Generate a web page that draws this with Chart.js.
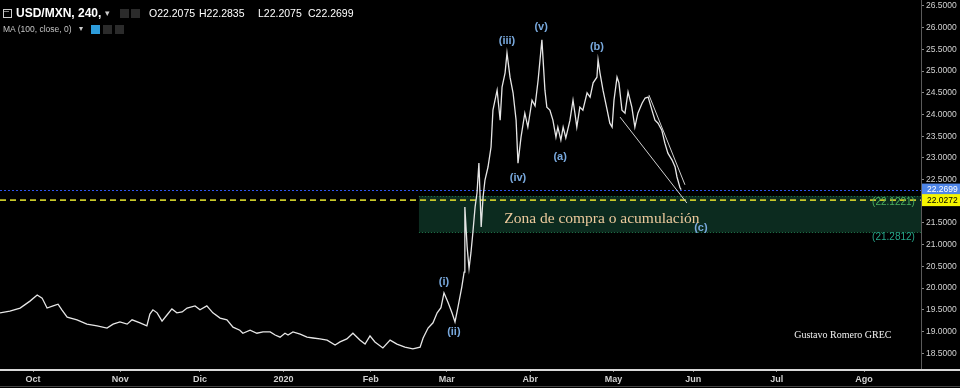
<!DOCTYPE html>
<html>
<head>
<meta charset="utf-8">
<script src="https://cdn.jsdelivr.net/npm/chart.js@4.4.1/dist/chart.umd.min.js"></script>
<style>
html, body { margin: 0; padding: 0; background: #000; }
#wrap { position: relative; width: 960px; height: 388px; overflow: hidden; }
#chart { position: absolute; left: 0; top: 0; }
.t { position: absolute; white-space: nowrap; font-family: "Liberation Sans", Arial, sans-serif; color: #fff; }
.ico { position: absolute; width: 9px; height: 9px; background: #2b2b2b; }
</style>
</head>
<body>
<div id="wrap">
  <canvas id="chart" width="960" height="388"></canvas>

  <!-- legend / header -->
  <div class="ico" style="left:3px;top:9px;background:none;border:1px solid #ccc;width:7px;height:7px;"></div>
  <div class="t" style="left:4px;top:7px;font-size:9px;color:#ccc;line-height:9px;">&#8211;</div>
  <div class="t" style="left:16px;top:6px;font-size:12px;font-weight:bold;">USD/MXN, 240,</div>
  <div class="t" style="left:105px;top:8px;font-size:9px;color:#ccc;">&#9662;</div>
  <div class="ico" style="left:120px;top:9px;"></div>
  <div class="ico" style="left:131px;top:9px;"></div>
  <div class="t" style="left:149px;top:7px;font-size:10.5px;">O22.2075</div>
  <div class="t" style="left:199px;top:7px;font-size:10.5px;">H22.2835</div>
  <div class="t" style="left:258px;top:7px;font-size:10.5px;">L22.2075</div>
  <div class="t" style="left:308px;top:7px;font-size:10.5px;">C22.2699</div>

  <div class="t" style="left:3px;top:24px;font-size:8.5px;color:#c4c4c4;">MA (100, close, 0)</div>
  <div class="t" style="left:79px;top:24px;font-size:8px;color:#ccc;">&#9662;</div>
  <div class="ico" style="left:91px;top:25px;background:#2d9cdb;"></div>
  <div class="ico" style="left:103px;top:25px;"></div>
  <div class="ico" style="left:115px;top:25px;"></div>
</div>

<script>
// axis ticks (x in trading days from 1 Oct 2019)
const monthTicks = [0, 23, 44, 66, 89, 109, 131, 153, 174, 196, 219];
const monthLabels = ['Oct', 'Nov', 'Dic', '2020', 'Feb', 'Mar', 'Abr', 'May', 'Jun', 'Jul', 'Ago'];
const priceTicks = [18.5, 19, 19.5, 20, 20.5, 21, 21.5, 22, 22.5, 23, 23.5, 24, 24.5, 25, 25.5, 26, 26.5];

// USD/MXN 4h price path
const days = [
    -8.7, -6.1, -3.4, -0.8, 1.1, 2.4, 3.7, 5.3, 6.6, 7.6,
    9.0, 11.6, 14.2, 16.9, 19.5, 21.1, 22.9, 24.8, 26.1, 28.2,
    30.0, 30.8, 31.6, 32.7, 34.0, 35.3, 36.6, 37.9, 39.3, 40.6,
    42.7, 44.0, 45.8, 47.4, 49.3, 51.1, 52.7, 54.5, 55.3, 57.2,
    59.0, 60.6, 62.5, 63.8, 65.1, 66.4, 67.2, 68.5, 70.4, 72.2,
    73.8, 75.6, 77.5, 79.6, 80.9, 82.7, 84.3, 86.2, 87.5, 88.8,
    90.1, 92.2, 94.1, 95.9, 98.0, 100.1, 102.0, 102.8, 104.1, 105.4,
    106.5, 107.5, 108.3, 109.4, 110.4, 111.2, 112.0, 113.0,
    113.6, 113.8, 114.4, 114.9, 115.4, 115.9, 116.5, 117.0, 117.5, 118.1,
    118.6, 119.1, 119.9, 120.7, 121.2, 122.3, 123.1, 123.6, 124.4, 124.9,
    125.7, 126.5, 127.3, 127.8, 128.6, 129.6, 130.4, 131.5, 132.3, 133.1,
    134.1, 134.9, 135.4, 136.2, 137.0, 137.8, 138.3, 139.1, 139.7, 140.4,
    141.5, 142.3, 142.8, 143.3, 144.1, 144.9, 146.0, 146.8, 147.6, 148.6,
    148.9, 149.4, 150.2, 151.3, 152.0, 152.6, 153.1, 153.9, 154.4, 155.2,
    156.0, 156.8, 157.8, 158.6, 159.4, 160.5, 161.3, 162.1, 163.1, 163.9,
    164.7, 165.7, 166.5, 167.3, 168.4, 169.2, 169.7, 170.5, 170.8
];
const closes = [
    19.43, 19.47, 19.54, 19.70, 19.84, 19.77, 19.54, 19.59, 19.63, 19.50,
    19.33, 19.27, 19.17, 19.13, 19.08, 19.17, 19.22, 19.17, 19.27, 19.20,
    19.13, 19.40, 19.50, 19.43, 19.24, 19.38, 19.52, 19.43, 19.45, 19.54,
    19.59, 19.50, 19.59, 19.43, 19.31, 19.27, 19.10, 19.03, 18.96, 19.03,
    18.96, 18.99, 18.99, 18.92, 18.87, 18.96, 18.92, 18.99, 18.94, 18.87,
    18.85, 18.83, 18.80, 18.69, 18.76, 18.83, 18.96, 18.80, 18.71, 18.90,
    18.76, 18.62, 18.80, 18.71, 18.64, 18.60, 18.64, 18.85, 19.08, 19.20,
    19.43, 19.55, 19.89, 19.66, 19.43, 19.22, 19.57, 20.03,
    20.37, 21.87, 20.95, 20.45, 20.81, 21.27, 21.87, 22.19, 22.88, 21.41,
    22.10, 22.49, 22.79, 23.25, 24.10, 24.56, 23.87, 24.63, 24.96, 25.42,
    24.86, 24.50, 23.87, 22.88, 23.48, 24.03, 23.71, 24.33, 24.20, 24.79,
    25.72, 24.56, 24.17, 24.10, 23.87, 23.48, 23.71, 23.41, 23.71, 23.46,
    23.87, 24.33, 24.03, 23.71, 24.17, 24.10, 24.50, 24.40, 24.73, 24.86,
    25.26, 24.96, 24.56, 24.10, 23.80, 23.71, 24.33, 24.86, 24.73, 24.10,
    24.03, 24.52, 24.17, 23.71, 24.03, 24.26, 24.38, 24.40, 24.10, 23.87,
    23.80, 23.64, 23.34, 23.11, 22.95, 22.79, 22.56, 22.31, 22.27
];

// levels
const lastPrice = 22.2699;
const yellowLevel = 22.0272;
const zoneTop = 22.1221;
const zoneBottom = 21.2812;
const zoneStartDay = 101.7;

// elliott wave labels
const waveLabels = ['(i)', '(ii)', '(iii)', '(iv)', '(v)', '(a)', '(b)', '(c)'];
const waveDays = [108.3, 110.9, 124.9, 127.8, 133.9, 138.9, 148.6, 176.0];
const wavePrices = [20.14, 18.99, 25.69, 22.54, 26.02, 23.02, 25.56, 21.38];

// drawn trend lines
const trendADays = [154.7, 172.3];
const trendAPrices = [23.94, 21.96];
const trendBDays = [162.3, 171.8];
const trendBPrices = [24.45, 22.38];

const serif = '"Liberation Serif", "DejaVu Serif", serif';
const sans = '"Liberation Sans", Arial, sans-serif';

const overlayPlugin = {
    id: 'overlay',
    beforeDatasetsDraw(chart) {
        const { ctx, chartArea, scales: { x, y } } = chart;
        ctx.save();
        // buy zone
        const zx = x.getPixelForValue(zoneStartDay);
        const zt = y.getPixelForValue(zoneTop);
        const zb = y.getPixelForValue(zoneBottom);
        ctx.fillStyle = '#0c2b1f';
        ctx.fillRect(zx, zt, chartArea.right - zx, zb - zt);
        ctx.strokeStyle = '#1f7048';
        ctx.lineWidth = 1;
        ctx.setLineDash([1, 2]);
        ctx.beginPath();
        ctx.moveTo(zx, Math.round(zt) + 0.5); ctx.lineTo(chartArea.right, Math.round(zt) + 0.5);
        ctx.moveTo(zx, Math.round(zb) + 0.5); ctx.lineTo(chartArea.right, Math.round(zb) + 0.5);
        ctx.stroke();
        // last price dotted line
        const lp = Math.round(y.getPixelForValue(lastPrice)) + 0.5;
        ctx.strokeStyle = '#2f55f0';
        ctx.setLineDash([2, 2]);
        ctx.beginPath();
        ctx.moveTo(chartArea.left, lp); ctx.lineTo(chartArea.right, lp);
        ctx.stroke();
        // yellow dashed line
        const yl = y.getPixelForValue(yellowLevel);
        ctx.strokeStyle = '#c8c82a';
        ctx.lineWidth = 1.6;
        ctx.setLineDash([6, 4]);
        ctx.beginPath();
        ctx.moveTo(chartArea.left, yl); ctx.lineTo(chartArea.right, yl);
        ctx.stroke();
        ctx.restore();
    },
    afterDatasetsDraw(chart) {
        const { ctx, scales: { x, y } } = chart;
        ctx.save();
        ctx.textAlign = 'center';
        ctx.textBaseline = 'middle';
        ctx.fillStyle = '#78a8dc';
        ctx.font = 'bold 11px ' + sans;
        waveLabels.forEach((t, i) => {
            ctx.fillText(t, x.getPixelForValue(waveDays[i]), y.getPixelForValue(wavePrices[i]));
        });

        ctx.fillStyle = '#ecc99c';
        ctx.font = '15.5px ' + serif;
        ctx.fillText('Zona de compra o acumulación', x.getPixelForValue(149.9), y.getPixelForValue(21.6));

        ctx.fillStyle = '#f0f0f0';
        ctx.font = '10px ' + serif;
        ctx.fillText('Gustavo Romero GREC', x.getPixelForValue(213.4), y.getPixelForValue(18.92));

        ctx.textAlign = 'right';
        ctx.font = '10px ' + sans;
        ctx.fillStyle = '#4cb060';
        ctx.fillText('(' + zoneTop.toFixed(4) + ')', x.getPixelForValue(232.4), y.getPixelForValue(21.98));
        ctx.fillStyle = '#26a68a';
        ctx.fillText('(' + zoneBottom.toFixed(4) + ')', x.getPixelForValue(232.4), y.getPixelForValue(21.18));
        ctx.restore();
    },
    afterDraw(chart) {
        const { ctx, chartArea, scales: { y } } = chart;
        ctx.save();
        // bottom separator across the whole width
        ctx.fillStyle = '#d8d8d8';
        ctx.fillRect(0, chartArea.bottom, chart.width, 2);
        ctx.fillStyle = '#444';
        ctx.fillRect(0, chart.height - 2, chart.width, 1);

        // price boxes on the axis
        const boxes = [
            { v: lastPrice, bg: '#4f86e8', fg: '#ffffff' },
            { v: yellowLevel, bg: '#f5f500', fg: '#000000' }
        ];
        ctx.font = '8.5px ' + sans;
        ctx.textAlign = 'left';
        ctx.textBaseline = 'middle';
        boxes.forEach(b => {
            const py = y.getPixelForValue(b.v);
            ctx.fillStyle = b.bg;
            ctx.fillRect(chartArea.right + 1, py - 6, chart.width - chartArea.right, 12);
            ctx.fillStyle = b.fg;
            ctx.fillText(b.v.toFixed(4), chartArea.right + 6, py + 0.5);
        });
        ctx.restore();
    }
};

// no extra padding for end labels so the plot fills the canvas
const noPad = s => { s.paddingTop = 0; s.paddingBottom = 0; s.paddingLeft = 0; s.paddingRight = 0; };

new Chart(document.getElementById('chart'), {
    type: 'line',
    data: {
        datasets: [{
            data: days.map((d, i) => ({ x: d, y: closes[i] })),
            borderColor: '#e6e6e6',
            borderWidth: 1.3,
            pointRadius: 0,
            tension: 0
        }, {
            data: trendADays.map((d, i) => ({ x: d, y: trendAPrices[i] })),
            borderColor: '#d0d0d0',
            borderWidth: 1,
            pointRadius: 0
        }, {
            data: trendBDays.map((d, i) => ({ x: d, y: trendBPrices[i] })),
            borderColor: '#d0d0d0',
            borderWidth: 1,
            pointRadius: 0
        }]
    },
    options: {
        responsive: false,
        animation: false,
        layout: { padding: 0 },
        plugins: { legend: { display: false }, tooltip: { enabled: false } },
        scales: {
            x: {
                type: 'linear',
                min: -8.7,
                max: 234,
                afterBuildTicks: s => { s.ticks = monthTicks.map(v => ({ value: v })); },
                afterFit: s => { s.height = 19; noPad(s); },
                ticks: {
                    autoSkip: false,
                    maxRotation: 0,
                    padding: 2,
                    color: '#cfcfcf',
                    font: { size: 9, family: sans, weight: 'bold' },
                    callback: v => monthLabels[monthTicks.indexOf(v)]
                },
                grid: { drawOnChartArea: false, color: '#888', tickLength: 3 },
                border: { display: false }
            },
            y: {
                position: 'right',
                min: 18.136,
                max: 26.638,
                afterBuildTicks: s => { s.ticks = priceTicks.map(v => ({ value: v })); },
                afterFit: s => { s.width = 39; noPad(s); },
                ticks: {
                    padding: 2,
                    color: '#d2d2d2',
                    font: { size: 8.5, family: sans },
                    callback: v => v.toFixed(4)
                },
                grid: { drawOnChartArea: false, color: '#888', tickLength: 3 },
                border: { color: '#5a5a5a' }
            }
        }
    },
    plugins: [overlayPlugin]
});
</script>
</body>
</html>
